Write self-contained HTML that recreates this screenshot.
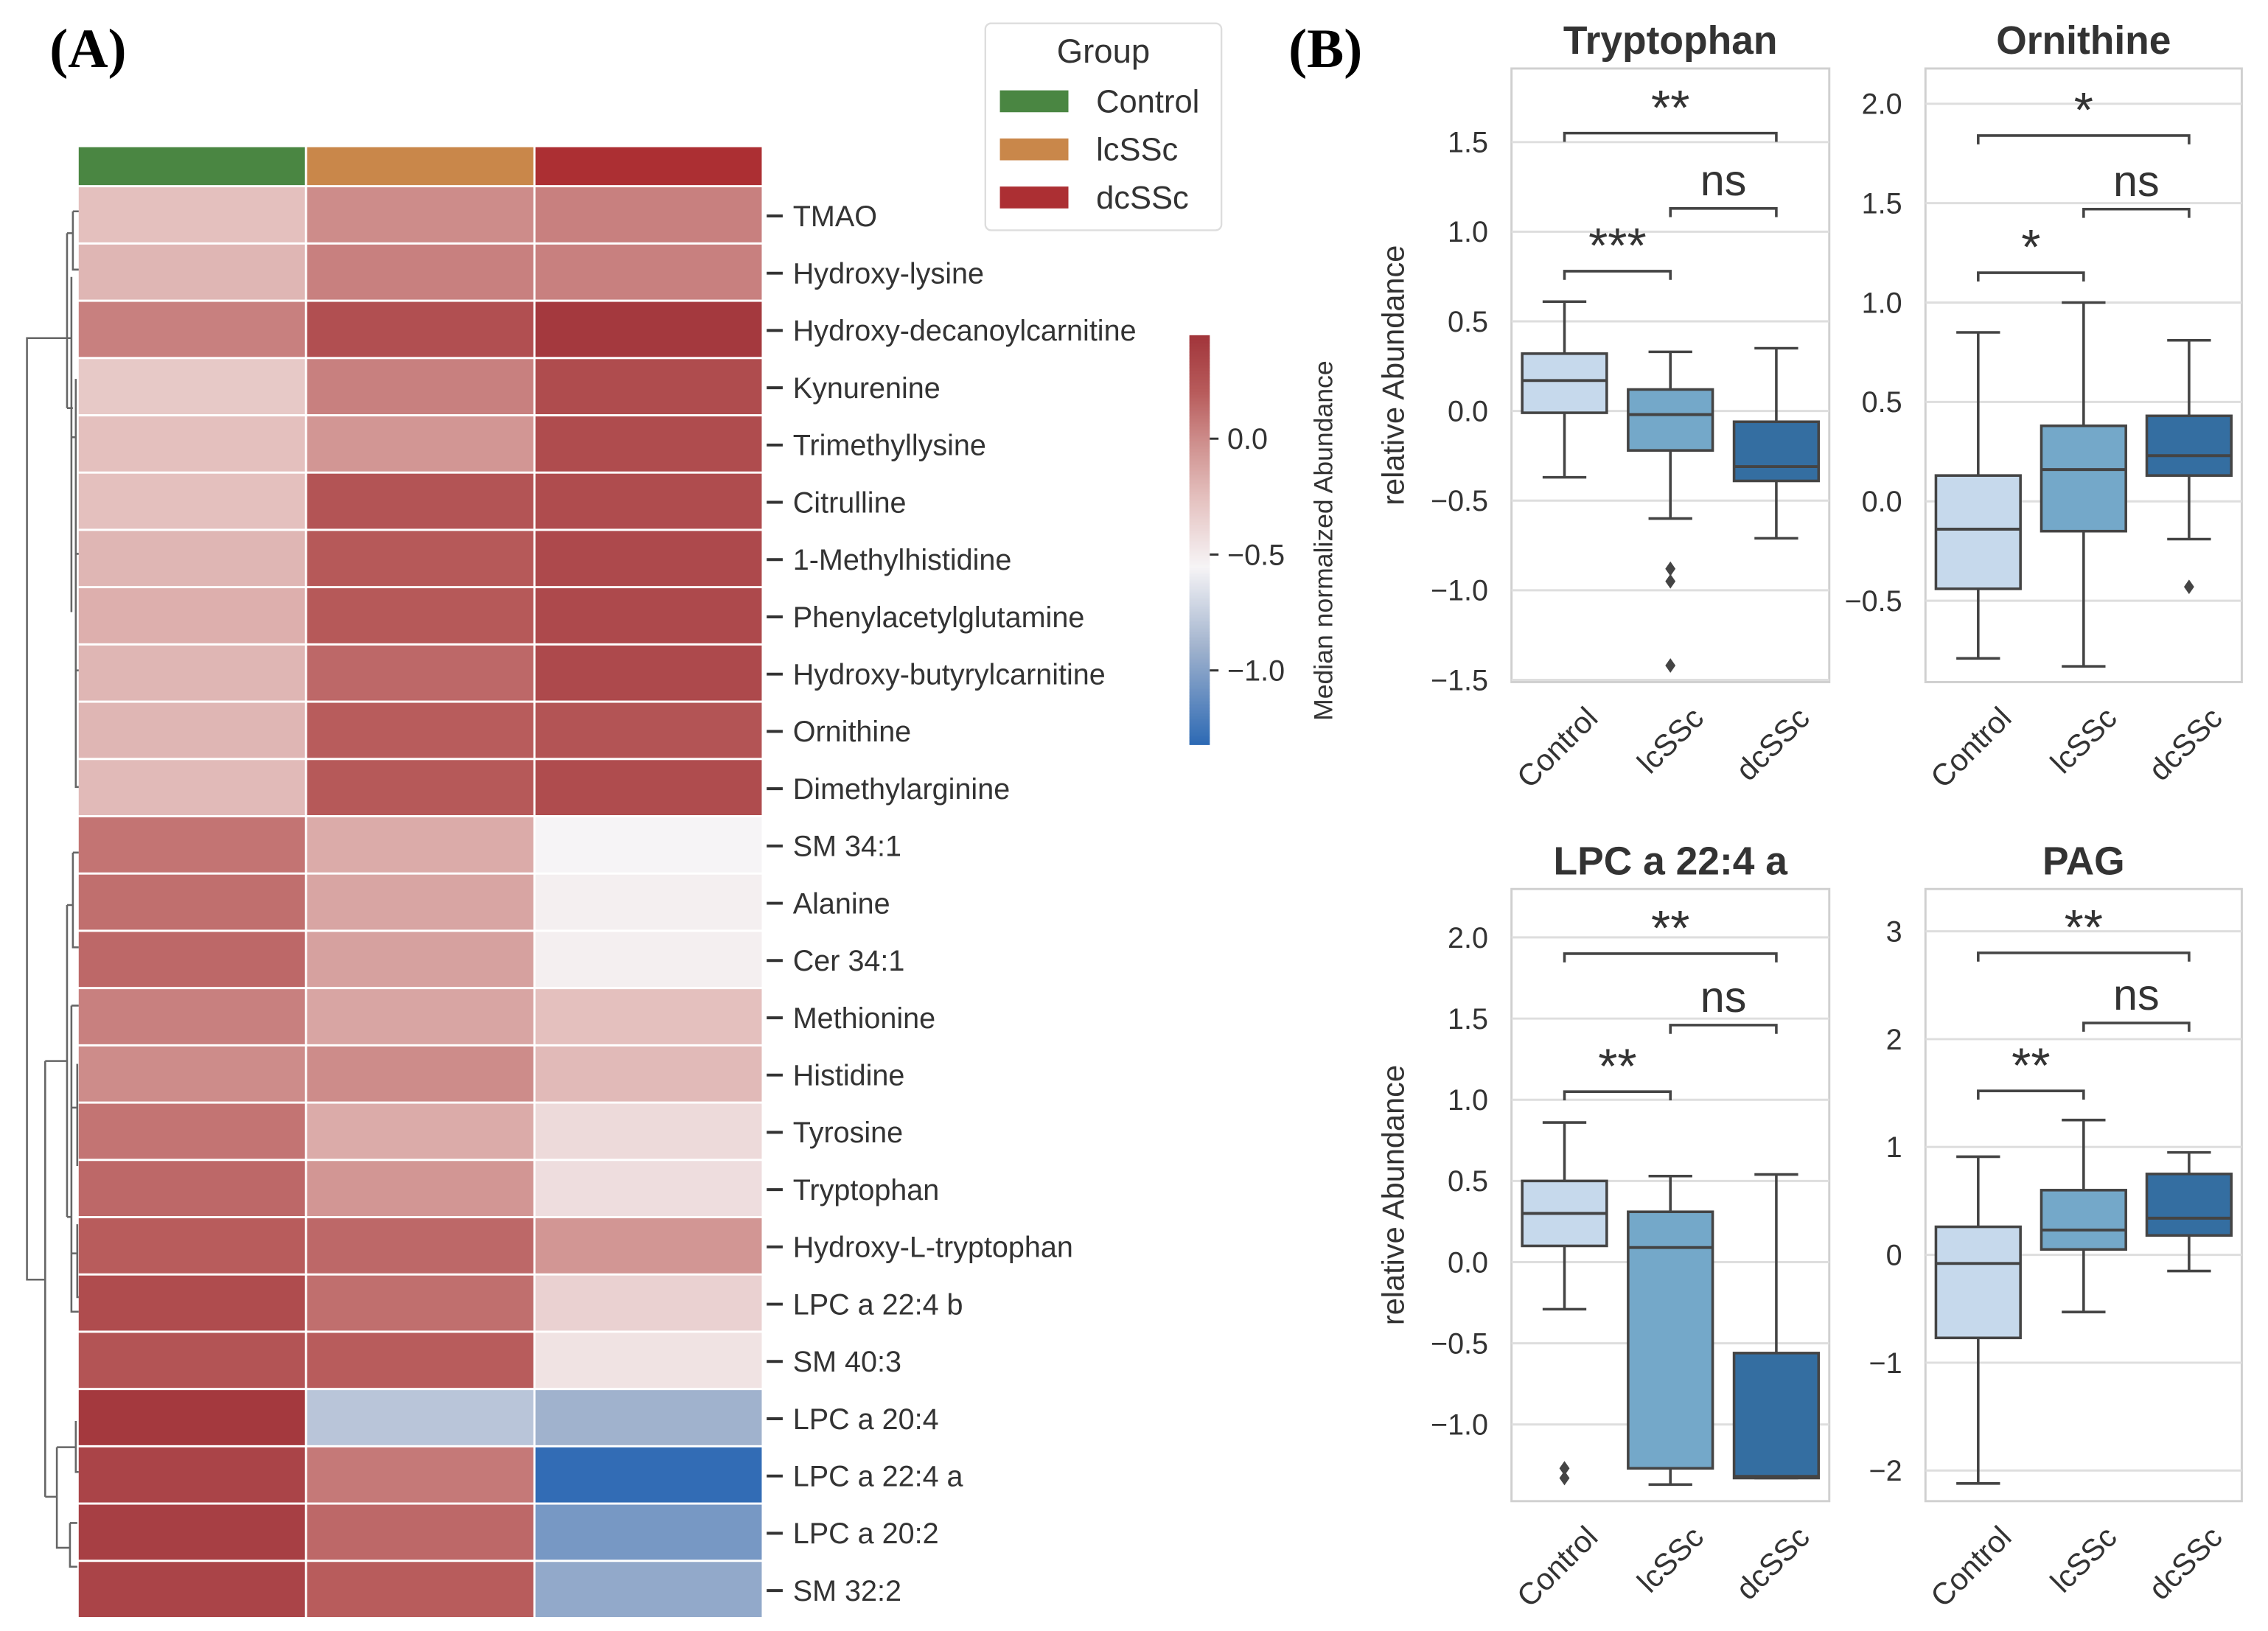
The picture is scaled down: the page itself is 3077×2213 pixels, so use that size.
<!DOCTYPE html>
<html><head><meta charset="utf-8"><style>
html,body{margin:0;padding:0;background:#fff;}
svg{display:block;}
text{font-family:"Liberation Sans",sans-serif;}
</style></head><body>
<svg id="fig" width="3077" height="2213" viewBox="0 0 1556 1119.1" preserveAspectRatio="none" xmlns="http://www.w3.org/2000/svg">
<rect width="1556" height="1120" fill="#fff"/>
<text x="34" y="46" font-weight="bold" font-size="38" style="font-family:'Liberation Serif',serif">(A)</text>
<text x="884" y="46" font-weight="bold" font-size="38" style="font-family:'Liberation Serif',serif">(B)</text>
<g id="heat"></g>
<g id="dendro" stroke="#666" stroke-width="1.3" fill="none">
<path d="M46,232 H18.5 V878 H31"/>
<path d="M31,728 V1027"/><path d="M31,728 H46 M46,621 V835"/>
<path d="M31,1027 H39 M39,993 V1062 H48 M39,993 H52 M48,1045 V1075 H53 M48,1045 H53 M52,975 V1010 H54"/>
<path d="M46,160 V280 M46,160 H50 M50,145 V185 H54 M50,145 H54 M46,280 H50 M46,232 H49 M49,190 V420 M49,300 H52 M52,260 V540 H54 M52,380 H54 M52,460 H54"/>
<path d="M46,621 H50 M50,585 V650 H54 M50,585 H54 M46,835 H49 M49,690 V900 H54 M49,690 H54 M49,760 H53 M53,730 V800 M49,860 H53 M53,840 V890 H54"/>
</g>
<g id="legend">
<rect x="676" y="16" width="162" height="142" rx="4" fill="#fff" stroke="#ddd" stroke-width="1.2"/>
<text x="757" y="43" font-size="23" text-anchor="middle" fill="#333">Group</text>
<rect x="686" y="62" width="47" height="15" fill="#4a8642"/>
<text x="752" y="77" font-size="22" fill="#333">Control</text>
<rect x="686" y="95" width="47" height="15" fill="#c9874a"/>
<text x="752" y="110" font-size="22" fill="#333">lcSSc</text>
<rect x="686" y="128" width="47" height="15" fill="#ac2f33"/>
<text x="752" y="143" font-size="22" fill="#333">dcSSc</text>
</g>
<g id="cbar"></g>
<g id="boxes"></g>
</svg>
<script>
const NS="http://www.w3.org/2000/svg";
function mk(tag,attrs,parent,txt){const e=document.createElementNS(NS,tag);for(const k in attrs)e.setAttribute(k,attrs[k]);if(txt!==undefined)e.textContent=txt;parent.appendChild(e);return e;}

// ---------- Heatmap data ----------
const metabolites=["TMAO","Hydroxy-lysine","Hydroxy-decanoylcarnitine","Kynurenine","Trimethyllysine","Citrulline","1-Methylhistidine","Phenylacetylglutamine","Hydroxy-butyrylcarnitine","Ornithine","Dimethylarginine","SM 34:1","Alanine","Cer 34:1","Methionine","Histidine","Tyrosine","Tryptophan","Hydroxy-L-tryptophan","LPC a 22:4 b","SM 40:3","LPC a 20:4","LPC a 22:4 a","LPC a 20:2","SM 32:2"];
const controlVals=[-0.25,-0.2,0.05,-0.3,-0.25,-0.25,-0.2,-0.17,-0.2,-0.2,-0.22,0.1,0.12,0.15,0.05,0.0,0.1,0.15,0.2,0.3,0.25,0.42,0.35,0.38,0.35];
const lcsscVals=[0.0,0.05,0.28,0.05,-0.05,0.25,0.22,0.22,0.15,0.2,0.22,-0.15,-0.12,-0.1,-0.12,0.0,-0.15,-0.05,0.15,0.12,0.2,-0.8,0.08,0.15,0.2];
const dcsscVals=[0.05,0.05,0.42,0.3,0.3,0.3,0.32,0.32,0.32,0.25,0.3,-0.55,-0.52,-0.52,-0.25,-0.22,-0.4,-0.42,-0.05,-0.35,-0.45,-0.9,-1.3,-1.05,-0.95];
const groupNames=["Control","lcSSc","dcSSc"];
const groupColors=["#4a8642","#c9874a","#ac2f33"];
const cbarTicks=[0.0,-0.5,-1.0];

const stops=[[0.45,[161,52,58]],[0.2,[184,92,92]],[0.0,[205,140,138]],[-0.25,[228,192,190]],[-0.55,[246,244,246]],[-0.9,[160,178,205]],[-1.32,[44,105,180]]];
function cmap(v){
  if(v>=stops[0][0])return `rgb(${stops[0][1]})`;
  for(let i=0;i<stops.length-1;i++){const a=stops[i],b=stops[i+1];
    if(v<=a[0]&&v>=b[0]){const t=(a[0]-v)/(a[0]-b[0]);const c=a[1].map((x,j)=>Math.round(x+(b[1][j]-x)*t));return `rgb(${c})`;}}
  return `rgb(${stops[stops.length-1][1]})`;
}
const heat=document.getElementById('heat');
const hx0=54,cw=156.7,hy0=128.5;
const n=metabolites.length;
const rowH=(1111-hy0)/n;
groupNames.forEach((g,j)=>{
  const r=mk('rect',{x:hx0+j*cw,y:101,width:cw-1.5,height:26,fill:groupColors[j]},heat);
  
  
});
const cols=[controlVals,lcsscVals,dcsscVals];
metabolites.forEach((m,i)=>{
  const y=hy0+i*rowH;
  cols.forEach((arr,j)=>{
    const r=mk('rect',{x:hx0+j*cw,y:y,width:cw-1.5,height:rowH-1.5,fill:cmap(arr[i])},heat);
    
    
  });
  mk('line',{x1:526,x2:537,y1:y+rowH/2,y2:y+rowH/2,stroke:'#333','stroke-width':2},heat);
  const t=mk('text',{x:544,y:y+rowH/2+7,'font-size':20,fill:'#333'},heat,m);
  
  
});

// ---------- Colorbar ----------
const cb=document.getElementById('cbar');
const cbTop=230,cbBot=511,cbV0=301,cbPer=159;
function cbY(v){return cbV0-v*cbPer;}
for(let y=cbTop;y<cbBot;y+=1){
  const v=(cbV0-y)/cbPer;
  mk('rect',{x:816,y:y,width:14,height:1.2,fill:cmap(v)},cb);
}
cbarTicks.forEach(v=>{
  const y=cbY(v);
  mk('line',{x1:830,x2:836,y1:y,y2:y,stroke:'#333','stroke-width':1.5},cb);
  const t=mk('text',{x:842,y:y+7,'font-size':20,fill:'#333'},cb,v===0?'0.0':'\u2212'+Math.abs(v).toFixed(1));
  
  
});
const cbt=mk('text',{x:0,y:0,'font-size':18,fill:'#333','text-anchor':'middle',transform:'translate(914,371) rotate(-90)'},cb,'Median normalized Abundance');



// ---------- Box plots data ----------
const categories=["Control","lcSSc","dcSSc"];
const boxColors=["#c6d9ec","#74a8c9","#346ea1"];
const tryLo=[-0.37,-0.6,-0.71], tryQ1=[-0.01,-0.22,-0.39], tryMed=[0.17,-0.02,-0.31], tryQ3=[0.32,0.12,-0.06], tryHi=[0.61,0.33,0.35];
const tryOut=[[],[-0.88,-0.95,-1.42],[]];
const tryTicks=[1.5,1.0,0.5,0.0,-0.5,-1.0,-1.5];
const tryBr=[0.78,1.13,1.55]; const tryStars=["***","ns","**"];

const ornLo=[-0.79,-0.83,-0.19], ornQ1=[-0.44,-0.15,0.13], ornMed=[-0.14,0.16,0.23], ornQ3=[0.13,0.38,0.43], ornHi=[0.85,1.0,0.81];
const ornOut=[[],[],[-0.43]];
const ornTicks=[2.0,1.5,1.0,0.5,0.0,-0.5];
const ornBr=[1.15,1.47,1.84]; const ornStars=["*","ns","*"];

const lpcLo=[-0.29,-1.37,-1.33], lpcQ1=[0.1,-1.27,-1.33], lpcMed=[0.3,0.09,-1.32], lpcQ3=[0.5,0.31,-0.56], lpcHi=[0.86,0.53,0.54];
const lpcOut=[[-1.27,-1.33],[],[]];
const lpcTicks=[2.0,1.5,1.0,0.5,0.0,-0.5,-1.0];
const lpcBr=[1.05,1.46,1.9]; const lpcStars=["**","ns","**"];

const pagLo=[-2.12,-0.53,-0.15], pagQ1=[-0.77,0.05,0.18], pagMed=[-0.08,0.23,0.34], pagQ3=[0.26,0.6,0.75], pagHi=[0.91,1.25,0.95];
const pagOut=[[],[],[]];
const pagTicks=[3,2,1,0,-1,-2];
const pagBr=[1.52,2.15,2.8]; const pagStars=["**","ns","**"];

const panels=[
 {name:"Tryptophan",x0:1037,x1:1255,y0:47,y1:468,p0:282,per:123,lo:tryLo,q1:tryQ1,med:tryMed,q3:tryQ3,hi:tryHi,out:tryOut,ticks:tryTicks,br:tryBr,st:tryStars,dec:1,ylab:true},
 {name:"Ornithine",x0:1321,x1:1538,y0:47,y1:468,p0:344,per:136.4,lo:ornLo,q1:ornQ1,med:ornMed,q3:ornQ3,hi:ornHi,out:ornOut,ticks:ornTicks,br:ornBr,st:ornStars,dec:1,ylab:false},
 {name:"LPC a 22:4 a",x0:1037,x1:1255,y0:610,y1:1030,p0:866,per:111.4,lo:lpcLo,q1:lpcQ1,med:lpcMed,q3:lpcQ3,hi:lpcHi,out:lpcOut,ticks:lpcTicks,br:lpcBr,st:lpcStars,dec:1,ylab:true},
 {name:"PAG",x0:1321,x1:1538,y0:610,y1:1030,p0:861,per:74,lo:pagLo,q1:pagQ1,med:pagMed,q3:pagQ3,hi:pagHi,out:pagOut,ticks:pagTicks,br:pagBr,st:pagStars,dec:0,ylab:false}
];
const bx=document.getElementById('boxes');
panels.forEach(P=>{
  const g=mk('g',{},bx);
  
  
  const Y=v=>P.p0-v*P.per;
  const W=P.x1-P.x0, step=W/3;
  const X=i=>P.x0+step*(i+0.5);
  mk('rect',{x:P.x0,y:P.y0,width:W,height:P.y1-P.y0,fill:'#fff',stroke:'#d0d0d0','stroke-width':1.5},g);
  P.ticks.forEach(v=>{
    const y=Y(v);
    mk('line',{x1:P.x0,x2:P.x1,y1:y,y2:y,stroke:'#dedede','stroke-width':1.5},g);
    const lab=(v<0?'\u2212':'')+Math.abs(v).toFixed(P.dec);
    const t=mk('text',{x:P.x0-16,y:y+7,'font-size':20,fill:'#333','text-anchor':'end'},g,lab);
    
    
  });
  const tt=mk('text',{x:(P.x0+P.x1)/2,y:P.y0-10,'font-size':27,'font-weight':'bold',fill:'#333','text-anchor':'middle'},g,P.name);
  
  
  if(P.ylab){
    const yl=mk('text',{x:0,y:0,'font-size':21,fill:'#333','text-anchor':'middle',transform:`translate(963,${(P.y0+P.y1)/2}) rotate(-90)`},g,'relative Abundance');
    
    
  }
  const bw=58, cap=15;
  categories.forEach((c,i)=>{
    const x=X(i);
    mk('line',{x1:x,x2:x,y1:Y(P.hi[i]),y2:Y(P.q3[i]),stroke:'#444','stroke-width':1.8},g);
    mk('line',{x1:x,x2:x,y1:Y(P.q1[i]),y2:Y(P.lo[i]),stroke:'#444','stroke-width':1.8},g);
    mk('line',{x1:x-cap,x2:x+cap,y1:Y(P.hi[i]),y2:Y(P.hi[i]),stroke:'#444','stroke-width':1.8},g);
    mk('line',{x1:x-cap,x2:x+cap,y1:Y(P.lo[i]),y2:Y(P.lo[i]),stroke:'#444','stroke-width':1.8},g);
    const b=mk('rect',{x:x-bw/2,y:Y(P.q3[i]),width:bw,height:Y(P.q1[i])-Y(P.q3[i]),fill:boxColors[i],stroke:'#444','stroke-width':1.8},g);
    
    
    mk('line',{x1:x-bw/2,x2:x+bw/2,y1:Y(P.med[i]),y2:Y(P.med[i]),stroke:'#444','stroke-width':2},g);
    P.out[i].forEach(v=>{
      const y=Y(v);
      const d=mk('path',{d:`M${x},${y-5} L${x+3.5},${y} L${x},${y+5} L${x-3.5},${y} Z`,fill:'#444'},g);
      
      
    });
    const xl=mk('text',{x:0,y:0,'font-size':21,fill:'#333','text-anchor':'end',transform:`translate(${x+24},${P.y1+26}) rotate(-45)`},g,c);
    
    
  });
  const pairs=[[0,1],[1,2],[0,2]];
  pairs.forEach((p,k)=>{
    const y=Y(P.br[k]);
    const a=X(p[0]),b=X(p[1]);
    const br=mk('path',{d:`M${a},${y+6} V${y} H${b} V${y+6}`,fill:'none',stroke:'#444','stroke-width':1.8},g);
    
    
    const ns=P.st[k]==='ns';
    const t=mk('text',{x:(a+b)/2,y:ns?y-9:y-6,'font-size':ns?30:34,fill:'#333','text-anchor':'middle'},g,P.st[k]);
    
    
  });
});
</script>
</body></html>
